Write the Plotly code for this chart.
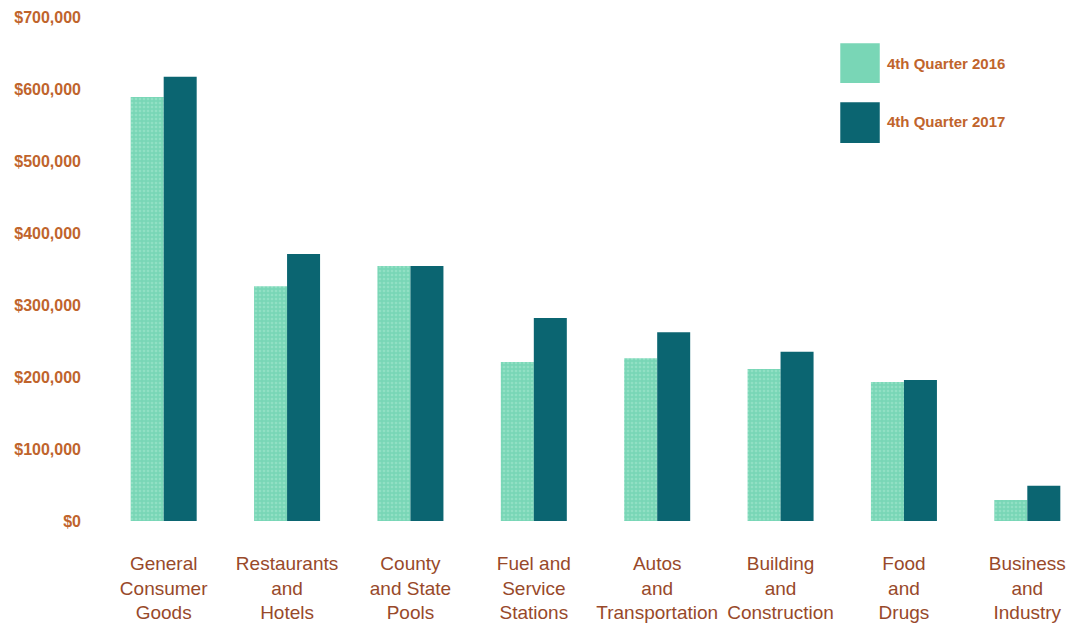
import plotly.graph_objects as go

categories = ["General<br>Consumer<br>Goods", "Restaurants<br>and<br>Hotels", "County<br>and State<br>Pools",
              "Fuel and<br>Service<br>Stations", "Autos<br>and<br>Transportation", "Building<br>and<br>Construction",
              "Food<br>and<br>Drugs", "Business<br>and<br>Industry"]
q4_2016 = [589000, 326000, 354000, 221000, 226000, 211000, 193000, 29000]
q4_2017 = [617000, 371000, 354000, 282000, 262000, 235000, 196000, 49000]
series_names = ["4th Quarter 2016", "4th Quarter 2017"]
y_ticks = [0, 100000, 200000, 300000, 400000, 500000, 600000, 700000]
y_tick_labels = ["$0", "$100,000", "$200,000", "$300,000", "$400,000", "$500,000", "$600,000", "$700,000"]

LIGHT = "#79d6b6"
DARK = "#0b6571"
TICK_COLOR = "#c0642c"
CAT_COLOR = "#98492a"
FONT = "Liberation Sans, Arial, sans-serif"

fig = go.Figure()
fig.add_trace(go.Bar(
    x=list(range(len(categories))), y=q4_2016, name=series_names[0],
    marker=dict(color=LIGHT, line=dict(width=0),
                pattern=dict(shape=".", fgcolor="#a9e9d2", bgcolor=LIGHT, size=4, solidity=0.35)),
    showlegend=False))
fig.add_trace(go.Bar(
    x=list(range(len(categories))), y=q4_2017, name=series_names[1],
    marker=dict(color=DARK, line=dict(width=0)), showlegend=False))

# custom legend (large swatches)
legend_items = [(series_names[0], LIGHT, 0.948, 0.869, 0.907),
                (series_names[1], DARK, 0.831, 0.750, 0.792)]
for name, col, y1, y0, yt in legend_items:
    fig.add_shape(type="rect", xref="paper", yref="paper", x0=0.748, x1=0.788, y0=y0, y1=y1,
                  fillcolor=col, line=dict(width=0))
    fig.add_annotation(xref="paper", yref="paper", x=0.793, y=yt, xanchor="left", yanchor="middle",
                       text=name, showarrow=False,
                       font=dict(family=FONT, size=15, color=TICK_COLOR, weight="bold"))

# page body has an 8px margin; size the figure so it fits the 1089x627 window
fig.update_layout(
    width=1081, height=619,
    margin=dict(l=94, r=0, t=9, b=106, autoexpand=False),
    paper_bgcolor="white", plot_bgcolor="white",
    barmode="group", bargap=0.465, bargroupgap=0,
    font=dict(family=FONT),
    xaxis=dict(range=[-0.5, 7.5], tickvals=list(range(len(categories))), ticktext=categories,
               showgrid=False, zeroline=False, showline=False, ticks="", automargin=False,
               tickfont=dict(family=FONT, size=19, color=CAT_COLOR), ticklabelstandoff=29),
    yaxis=dict(range=[0, 700000], tickvals=y_ticks, ticktext=y_tick_labels,
               showgrid=False, zeroline=False, showline=False, ticks="", automargin=False,
               tickfont=dict(family=FONT, size=16, color=TICK_COLOR, weight="bold"), ticklabelstandoff=20),
)

fig.write_html("out.html")
